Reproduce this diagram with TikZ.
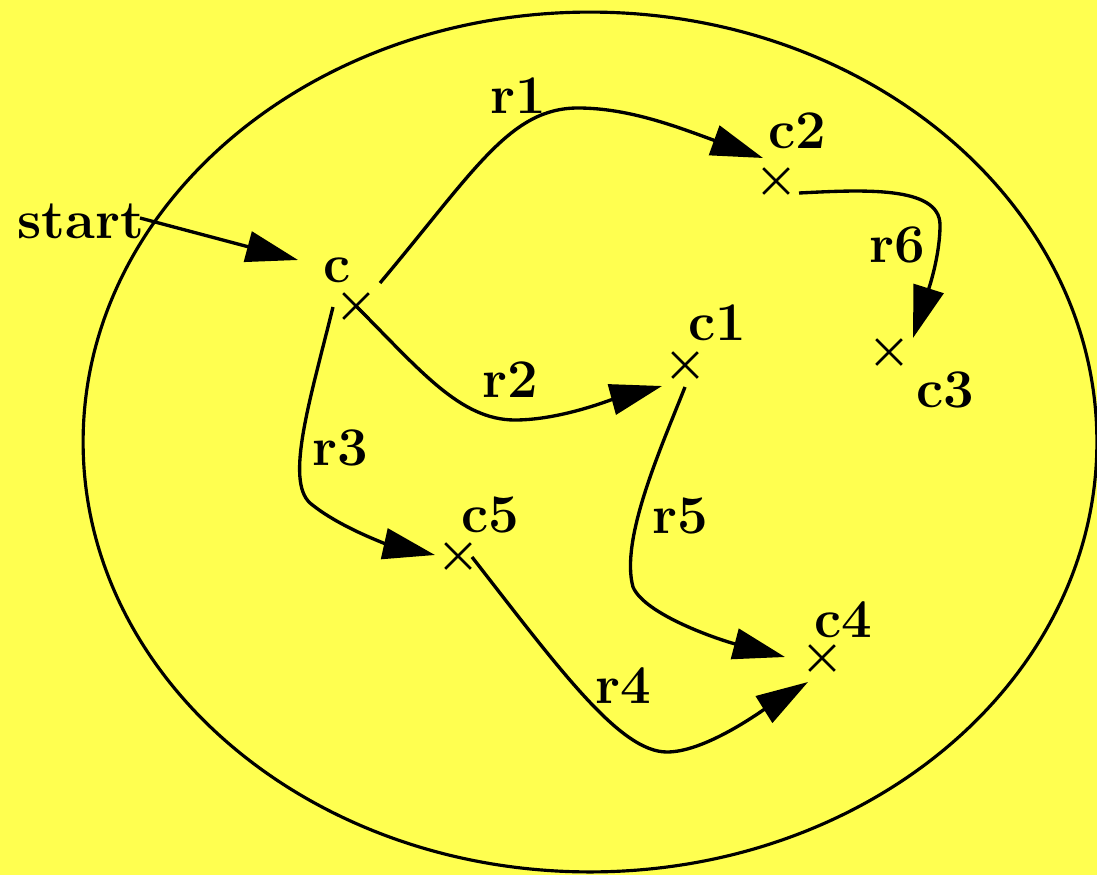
\documentclass[tikz,border=0pt]{standalone}
\usetikzlibrary{arrows.meta,shapes.misc,calc}
\definecolor{bgyellow}{RGB}{255,255,80}
\begin{document}
\begin{tikzpicture}[x=0.02cm,y=-0.02cm,
  lbl/.style={anchor=base,inner sep=0pt,font=\fontsize{31}{35}\selectfont\bfseries},
  xmark/.style={cross out,draw,line width=1.5pt,minimum size=0.46cm,inner sep=0pt},
  arr/.style={line width=1.9pt,-{Triangle[length=1.04cm,width=0.62cm]}}]
\useasboundingbox (0,0) rectangle (1097,875);
\fill[bgyellow] (0,0) rectangle (1097,875);
\draw[line width=1.8pt] (590,442) ellipse [x radius=10.14cm, y radius=8.6cm];
% marks
\node[xmark] (c)  at (356,306) {};
\node[xmark] (c1) at (685,365) {};
\node[xmark] (c2) at (776,181) {};
\node[xmark] (c3) at (889,352) {};
\node[xmark] (c4) at (822,658) {};
\node[xmark] (c5) at (458,556) {};
% labels
\node[lbl] (start) at (81,238) {start};
\node[lbl] (lc)  at (337,282) {c};
\node[lbl] (lc1) at (717,340) {c1};
\node[lbl] (lc2) at (797,148) {c2};
\node[lbl] (lc3) at (945,407) {c3};
\node[lbl] (lc4) at (843,637) {c4};
\node[lbl] (lc5) at (490,532) {c5};
\node[lbl] (lr1) at (518,113) {r1};
\node[lbl] (lr2) at (510,397) {r2};
\node[lbl] (lr3) at (340,465) {r3};
\node[lbl] (lr4) at (623,703) {r4};
\node[lbl] (lr5) at (680,533) {r5};
\node[lbl] (lr6) at (897,262) {r6};
% connectors
\draw[arr] ($(start.base)+(59,-20)$) -- ($(c.center)+(-58,-46)$);
\draw[arr] ($(c.center)+(24,-23)$) .. controls (475,170) and (510,108) .. (578,108)
   .. controls (630,108) and (680,128) .. ($(c2.center)+(-13,-23)$);
\draw[arr] (c.center) .. controls (420,370) and (460,420) .. (515,420)
   .. controls (560,420) and (610,400) .. ($(c1.center)+(-23,21)$);
\draw[arr] ($(c.center)+(-23,1)$) .. controls (310,400) and (285,480) .. (310,503)
   .. controls (340,528) and (390,545) .. ($(c5.center)+(-23,-1)$);
\draw[arr] ($(c5.center)+(14,1)$) .. controls (560,670) and (620,752) .. (667,752)
   .. controls (705,752) and (760,712) .. ($(c4.center)+(-14,24)$);
\draw[arr] ($(c1.center)+(0,22)$) .. controls (660,450) and (620,540) .. (633,587)
   .. controls (645,615) and (720,640) .. ($(c4.center)+(-37,-1)$);
\draw[arr] ($(c2.center)+(23,12)$) .. controls (860,190) and (940,185) .. (940,225)
   .. controls (940,260) and (925,300) .. ($(c3.center)+(24,-14)$);
\end{tikzpicture}
\end{document}
